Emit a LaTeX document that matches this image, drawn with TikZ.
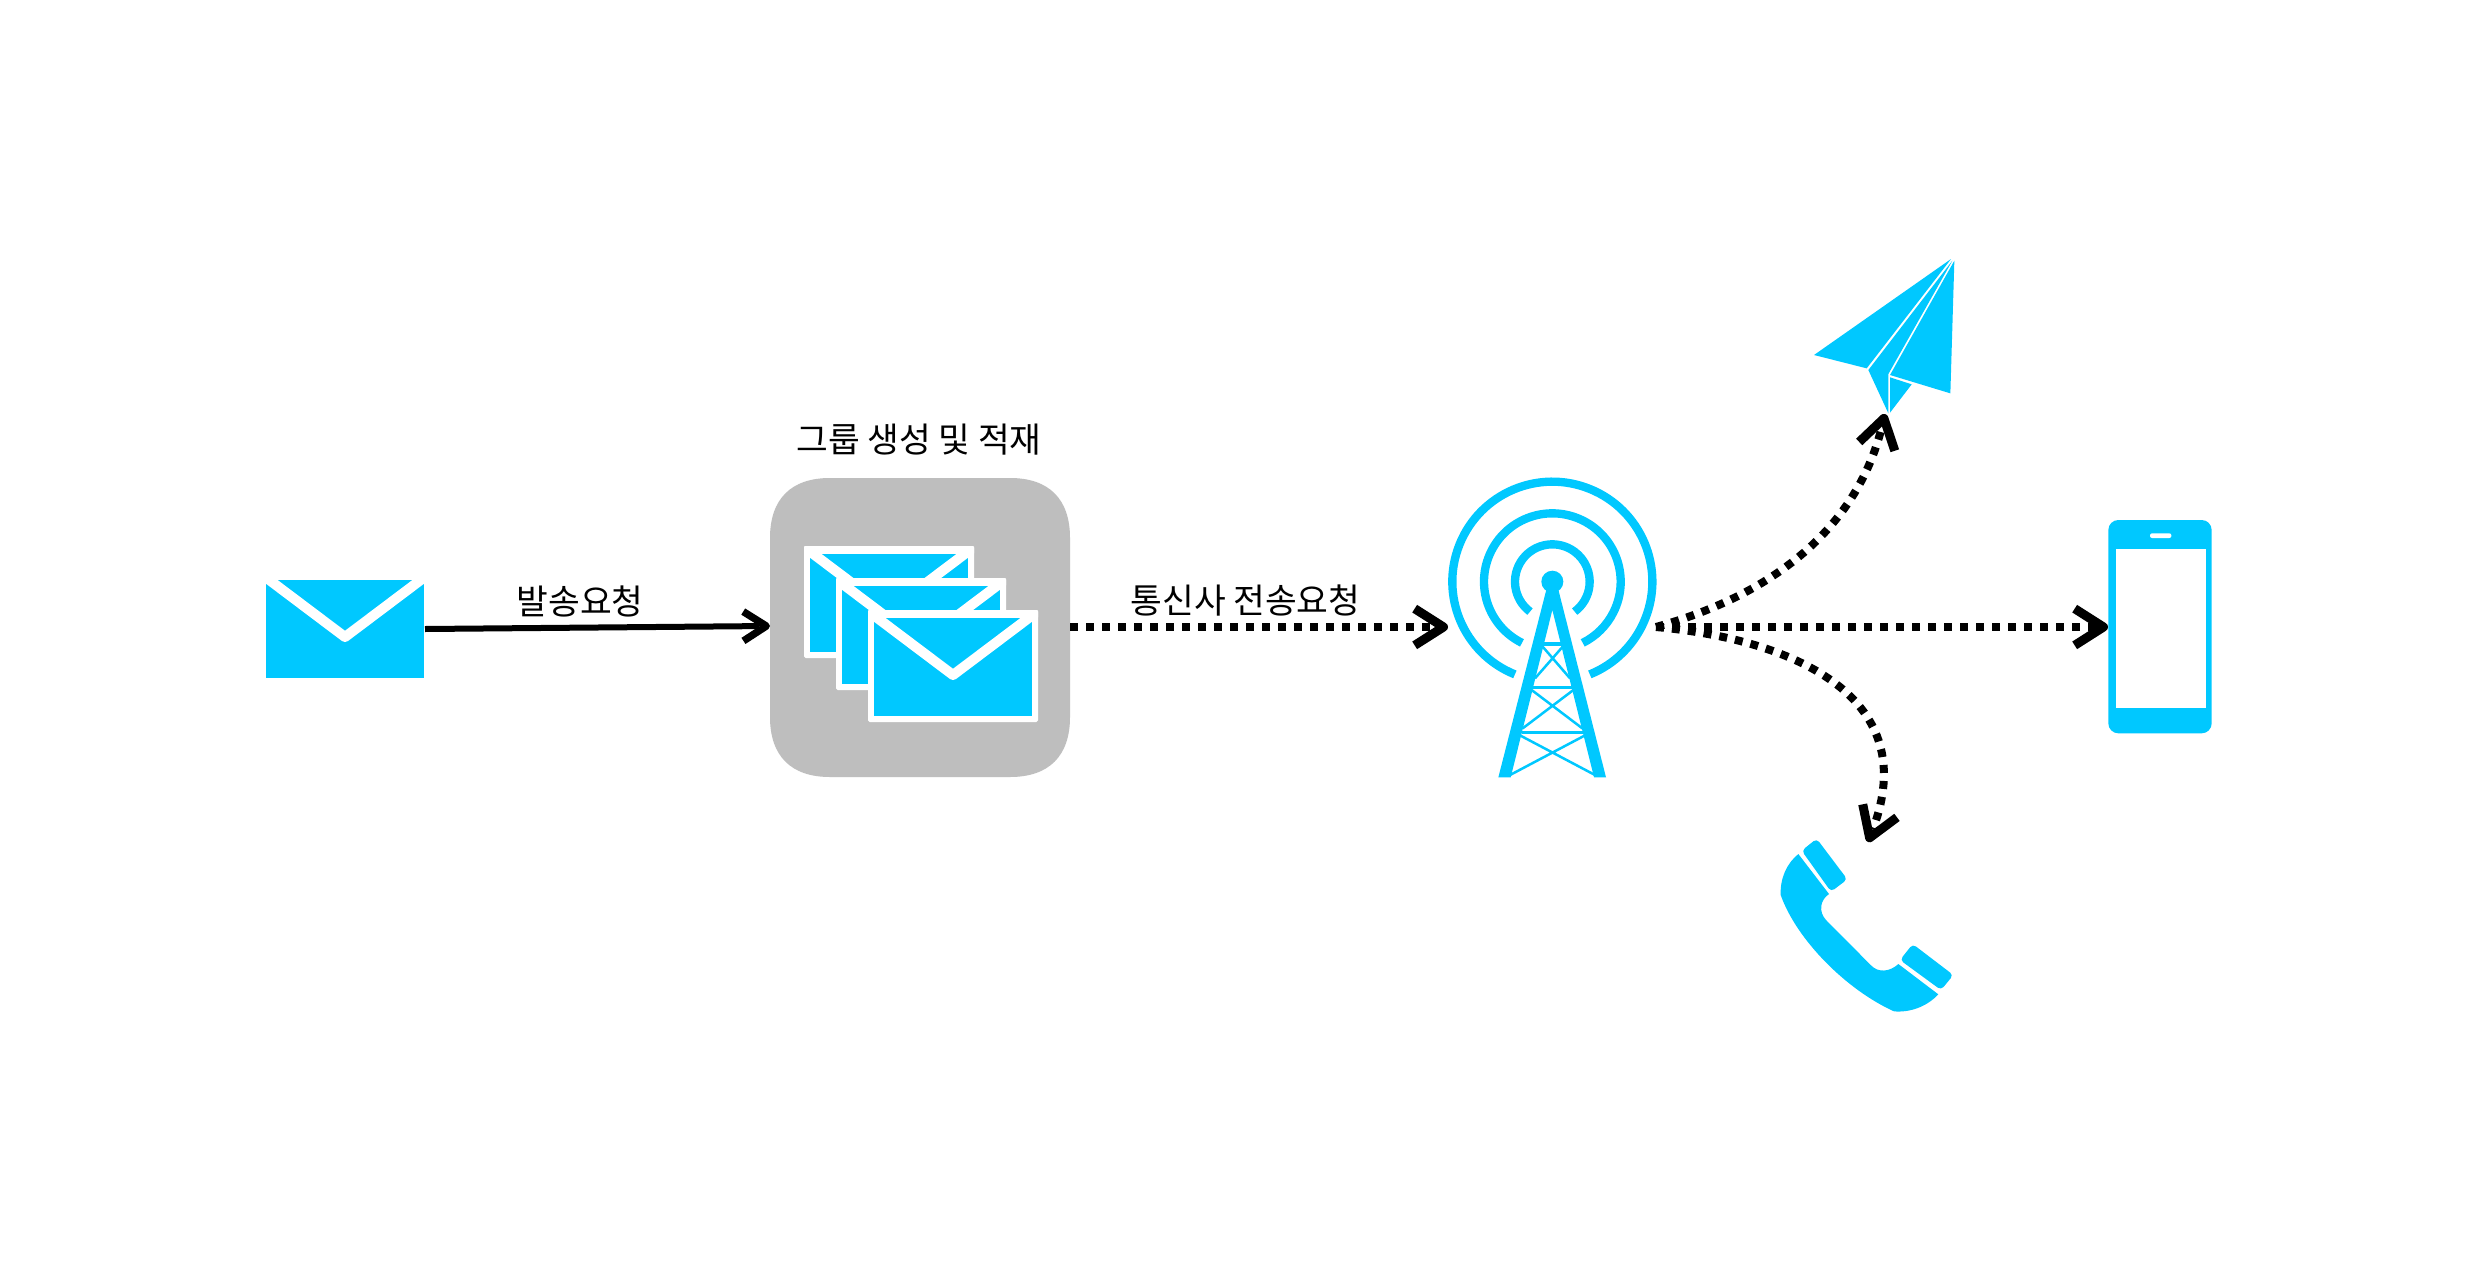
\documentclass[tikz,border=0pt]{standalone}
\usepackage{fontspec}
\setmainfont{Noto Sans CJK KR}
\usetikzlibrary{arrows.meta}
\definecolor{sky}{HTML}{00C8FF}
\definecolor{boxgray}{HTML}{BEBEBE}
\pgfdeclarearrow{
  name = VHead,
  defaults = {length=10pt,width=9.6pt,line width=2.7pt},
  setup code = {
    \pgfarrowssettipend{0pt}
    \pgfarrowssetlineend{-1.5\pgfarrowlinewidth}
    \pgfarrowssetbackend{-\pgfarrowlength}
    \pgfarrowssetvisualbackend{-\pgfarrowlength}
    \pgfarrowssavethe\pgfarrowlength
    \pgfarrowssavethe\pgfarrowwidth
    \pgfarrowssavethe\pgfarrowlinewidth
  },
  drawing code = {
    \pgfsetdash{}{0pt}
    \pgfsetbuttcap
    \pgfsetroundjoin
    \pgfsetlinewidth{\pgfarrowlinewidth}
    \pgfpathmoveto{\pgfqpoint{-\pgfarrowlength}{.5\pgfarrowwidth}}
    \pgfpathlineto{\pgfqpoint{-.5\pgfarrowlinewidth}{0pt}}
    \pgfpathlineto{\pgfqpoint{-\pgfarrowlength}{-.5\pgfarrowwidth}}
    \pgfusepathqstroke
  }
}
\tikzset{
  conn/.style={line width=1.8pt,-{VHead[length=8pt,width=8.8pt,line width=2.2pt]}},
  dotconn/.style={line width=2.4pt,dash pattern=on 2.4pt off 2.4pt,-{VHead[length=10pt,width=11pt,line width=2.7pt]}},
  lbl/.style={font=\fontsize{10.35}{12}\selectfont,text=black,inner sep=0pt},
  ringline/.style={sky,line width=2.5pt},
}
\newcommand{\envelopeicon}[2]{%
  \begin{scope}[shift={(#1,#2)}]
    \fill[white,rounded corners=.5pt] (0,-2) rectangle (170,110);
    \fill[sky] (6,6) rectangle (164,104);
    \begin{scope}
      \clip (0,-2) rectangle (170,110);
      \draw[white,line width=3pt,line join=round] (0,-1) -- (85,63) -- (170,-1);
    \end{scope}
  \end{scope}}
\begin{document}
\begin{tikzpicture}[x=.3pt,y=-.3pt]
\useasboundingbox[fill=white] (0,0) rectangle (2470,1270);

% anchors
\coordinate (mailR) at (425,629);
\coordinate (groupL) at (770,626);
\coordinate (groupR) at (1070,627);
\coordinate (towerL) at (1448,627);
\coordinate (towerR) at (1656,627);
\coordinate (phoneL) at (2108,627);
\coordinate (planeTip) at (1885,414);
\coordinate (callTip) at (1868,842);

% single envelope
\fill[sky] (266,580) rectangle (424,678);
\begin{scope}
  \clip (266,570) rectangle (424,678);
  \draw[white,line width=3pt,line join=round] (260,573) -- (345,637) -- (430,573);
\end{scope}

% group box
\fill[boxgray] (770,538) .. controls (770,499) and (791,478) .. (830,478)
  -- (1010,478) .. controls (1049,478) and (1070,499) .. (1070,538)
  -- (1070,717) .. controls (1070,756) and (1049,777) .. (1010,777)
  -- (830,777) .. controls (791,777) and (770,756) .. (770,717) -- cycle;

\envelopeicon{804}{548}
\envelopeicon{836}{580}
\envelopeicon{868}{612}

% labels
\node[lbl] (lblsend) at (580,601) {발송요청};
\node[lbl] (lblcarrier) at (1245.5,601) {통신사 전송요청};
\node[lbl] (lblgroup) at (919,440) {그룹 생성 및 적재};

% tower
\begin{scope}[shift={(1420,460)},x=.1pt,y=-.1pt]
  \begin{scope}[shift={(397,365)}]
    \draw[ringline] (112:300) arc[start angle=112,end angle=428,radius=300];
    \draw[ringline] (116.4:205) arc[start angle=116.4,end angle=423.6,radius=205];
    \draw[ringline] (126.7:112) arc[start angle=126.7,end angle=413.3,radius=112];
  \end{scope}
  \fill[sky] (397,365) circle[radius=33];
  \fill[sky] (380,385) -- (414,385) -- (558,952) -- (522,952) -- (397,450) -- (272,952) -- (235,952) -- cycle;
  \draw[sky,line width=1pt] (368,552) -- (426,552) (340,683) -- (455,683) (305,817) -- (490,817);
  \draw[sky,line width=.75pt]
    (368,560) -- (450,655) (428,560) -- (345,655)
    (335,690) -- (487,805) (460,690) -- (308,805)
    (298,825) -- (525,945) (497,825) -- (270,945);
\end{scope}

% plane
\begin{scope}[shift={(1640,230)},x=.1pt,y=-.1pt]
  \fill[sky] (933,87) -- (522,375) -- (680,415) -- cycle;
  \fill[sky] (937,92) -- (685,420) -- (745,550) -- (745,432) -- cycle;
  \fill[sky] (943,92) -- (931,490) -- (750,435) -- cycle;
  \fill[sky] (750,442) -- (815,463) -- (750,548) -- cycle;
\end{scope}

% mobile phone
\begin{scope}[shift={(2080,500)},x=.1pt,y=-.1pt]
  \fill[sky,rounded corners=3pt] (85,60) rectangle (395,700);
  \fill[white] (108,148) rectangle (378,623);
  \fill[white,rounded corners=.6pt] (210,100) rectangle (274,114);
\end{scope}

% handset
\begin{scope}[shift={(1640,600)},x=.1pt,y=-.1pt]
  \fill[sky] (475,762) .. controls (440,790) and (420,835) .. (422,885)
    .. controls (470,1020) and (620,1170) .. (762,1234)
    .. controls (810,1238) and (860,1220) .. (895,1183)
    -- (775,1092) .. controls (750,1115) and (715,1120) .. (692,1095)
    -- (558,960) .. controls (535,935) and (540,900) .. (567,882) -- cycle;
  \fill[sky,rounded corners=1.2pt] (485,752) -- (530,716) -- (622,838) -- (573,875) -- cycle;
  \fill[sky,rounded corners=1.2pt] (780,1080) -- (818,1032) -- (940,1125) -- (903,1170) -- cycle;
\end{scope}

% connectors
\draw[conn] (mailR) -- (groupL);
\draw[dotconn] (groupR) -- (towerL);
\draw[dotconn] (towerR) -- (phoneL);
\draw[dotconn] (towerR) .. controls (1790,590) and (1860,515) .. (planeTip);
\draw[dotconn] (towerR) .. controls (1800,640) and (1922,700) .. (callTip);
\end{tikzpicture}
\end{document}
